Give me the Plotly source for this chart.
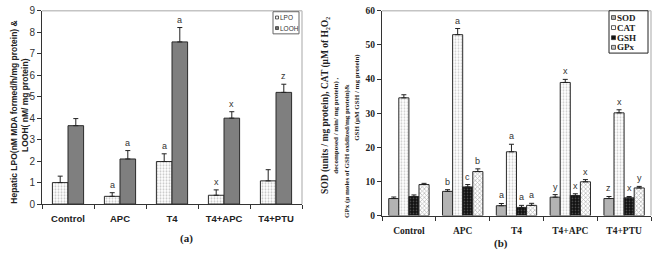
import plotly.graph_objects as go

# ---------------- data ----------------
groups = ["Control", "APC", "T4", "T4+APC", "T4+PTU"]

# panel (a)
lpo = [1.0, 0.36, 1.98, 0.41, 1.08]
lpo_err = [0.3, 0.17, 0.36, 0.25, 0.52]
lpo_sig = ["", "a", "a", "x", ""]
looh = [3.65, 2.1, 7.55, 4.0, 5.2]
looh_err = [0.33, 0.39, 0.67, 0.3, 0.38]
looh_sig = ["", "a", "a", "x", "z"]

# panel (b)
sod = [5.0, 7.1, 2.9, 5.4, 5.0]
sod_err = [0.45, 0.5, 0.65, 0.75, 0.6]
sod_sig = ["", "b", "a", "y", "z"]
cat = [34.5, 53.0, 18.7, 39.0, 30.1]
cat_err = [0.9, 1.8, 2.2, 0.9, 0.9]
cat_sig = ["", "a", "a", "x", "x"]
gsh = [5.6, 8.4, 2.4, 5.9, 5.2]
gsh_err = [0.45, 0.7, 0.6, 0.5, 0.4]
gsh_sig = ["", "c", "a", "x", "x"]
gpx = [9.1, 12.9, 3.0, 9.9, 8.1]
gpx_err = [0.35, 0.8, 0.6, 0.65, 0.45]
gpx_sig = ["", "b", "a", "x", "y"]

SANS = "Liberation Sans, Arial, sans-serif"
SERIF = "Liberation Serif, Times New Roman, serif"
EDGE = "#2a2a2a"
W, H = 658, 261


def px(x):
    return x / W


def py(y):
    return 1 - y / H


fig = go.Figure()


def err(e):
    return dict(type="data", symmetric=False, array=e, arrayminus=[0] * len(e),
                color="#222222", thickness=1, width=2.5)


styles = {
    "LPO": dict(color="white", line=dict(color=EDGE, width=1),
                pattern=dict(shape=".", bgcolor="white", fgcolor="#8a8a8a", size=3, solidity=0.35)),
    "LOOH": dict(color="#7f7f7f", line=dict(color=EDGE, width=1)),
    "SOD": dict(color="#b3b3b3", line=dict(color=EDGE, width=1)),
    "CAT": dict(color="white", line=dict(color=EDGE, width=1),
                pattern=dict(shape=".", bgcolor="white", fgcolor="#9a9a9a", size=3, solidity=0.3)),
    "GSH": dict(color="#111111", line=dict(color=EDGE, width=1),
                pattern=dict(shape=".", bgcolor="#111111", fgcolor="#9a9a9a", size=3, solidity=0.25)),
    "GPx": dict(color="white", line=dict(color=EDGE, width=1),
                pattern=dict(shape="x", bgcolor="white", fgcolor="#7a7a7a", size=3, solidity=0.45)),
}
swatch = {"LPO": "#f4f4f4", "LOOH": "#6f6f6f", "SOD": "#b3b3b3", "CAT": "#ffffff",
          "GSH": "#111111", "GPx": "#c4c4c4"}

gap_a = 0.4
wa = (1 - gap_a) / 2
gap_b = 0.25
wb = (1 - gap_b) / 4

fig.add_trace(go.Bar(x=groups, y=lpo, name="LPO", error_y=err(lpo_err), xaxis="x", yaxis="y",
                     marker=styles["LPO"], width=wa, offset=-wa))
fig.add_trace(go.Bar(x=groups, y=looh, name="LOOH", error_y=err(looh_err), xaxis="x", yaxis="y",
                     marker=styles["LOOH"], width=wa, offset=0))

for k, (nm, vals, e) in enumerate([("SOD", sod, sod_err), ("CAT", cat, cat_err),
                                    ("GSH", gsh, gsh_err), ("GPx", gpx, gpx_err)]):
    fig.add_trace(go.Bar(x=groups, y=vals, name=nm, error_y=err(e), xaxis="x2", yaxis="y2",
                         marker=styles[nm], width=wb, offset=(k - 2) * wb))

fig.update_traces(showlegend=False)

annotations = []


def add_letters(vals, errs, sigs, offset, xref, yref):
    for i, (v, e, s) in enumerate(zip(vals, errs, sigs)):
        if s:
            annotations.append(dict(x=i + offset, y=v + e, xref=xref, yref=yref, text=s,
                                    showarrow=False, yanchor="bottom", yshift=1,
                                    font=dict(family=SANS, size=9, color="#333333")))


add_letters(lpo, lpo_err, lpo_sig, -wa / 2, "x", "y")
add_letters(looh, looh_err, looh_sig, wa / 2, "x", "y")
for k, (v, e, s) in enumerate([(sod, sod_err, sod_sig), (cat, cat_err, cat_sig),
                                (gsh, gsh_err, gsh_sig), (gpx, gpx_err, gpx_sig)]):
    add_letters(v, e, s, (k - 1.5) * wb, "x2", "y2")

bold = "bold"
annotations += [
    dict(x=px(7), y=py(112), xref="paper", yref="paper", showarrow=False, textangle=-90,
         text="Hepatic LPO(nM MDA formed/h/mg protein) &",
         font=dict(family=SANS, size=8.5, color="#222", weight=bold)),
    dict(x=px(18), y=py(104), xref="paper", yref="paper", showarrow=False, textangle=-90,
         text="LOOH( nM/ mg protein)",
         font=dict(family=SANS, size=8.5, color="#222", weight=bold)),
    dict(x=px(326), y=py(105), xref="paper", yref="paper", showarrow=False, textangle=-90,
         text="SOD (units / mg protein), CAT (μM of H₂O₂",
         font=dict(family=SERIF, size=9.5, color="#222", weight=bold)),
    dict(x=px(336.5), y=py(74), xref="paper", yref="paper", showarrow=False, textangle=-90,
         text="decomposed / min/ mg protein) ,",
         font=dict(family=SERIF, size=7, color="#222", weight=bold)),
    dict(x=px(347), y=py(80), xref="paper", yref="paper", showarrow=False, textangle=-90,
         text="GPx (μ moles of GSH oxidized/mg protein)&",
         font=dict(family=SERIF, size=7, color="#222", weight=bold)),
    dict(x=px(357.5), y=py(96), xref="paper", yref="paper", showarrow=False, textangle=-90,
         text="GSH (μM GSH / mg protein)",
         font=dict(family=SERIF, size=7, color="#222", weight=bold)),
    dict(x=px(178), y=py(252), xref="paper", yref="paper", showarrow=False, text="(a)",
         font=dict(family=SERIF, size=11, color="#222", weight=bold)),
    dict(x=px(510), y=py(256.5), xref="paper", yref="paper", showarrow=False, text="(b)",
         font=dict(family=SERIF, size=11, color="#222", weight=bold)),
]

shapes = []
for xr, yr in [("x", "y"), ("x2", "y2")]:
    shapes.append(dict(type="line", xref=xr + " domain", yref=yr + " domain", x0=0, x1=1, y0=1, y1=1,
                       line=dict(color="#c4c4c4", width=1.5)))
    shapes.append(dict(type="line", xref=xr + " domain", yref=yr + " domain", x0=1, x1=1, y0=0, y1=1,
                       line=dict(color="#c4c4c4", width=1.5)))


def legend_box(x0, x1, y0, y1, names, ys, sw, font, border):
    shapes.append(dict(type="rect", xref="paper", yref="paper", x0=px(x0), x1=px(x1),
                       y0=py(y1), y1=py(y0), line=dict(color=border, width=1), fillcolor="white"))
    for nm, yy in zip(names, ys):
        shapes.append(dict(type="rect", xref="paper", yref="paper",
                           x0=px(x0 + 2.5), x1=px(x0 + 2.5 + sw), y0=py(yy + sw / 2), y1=py(yy - sw / 2),
                           line=dict(color="#333", width=0.8), fillcolor=swatch[nm]))
        annotations.append(dict(x=px(x0 + 3 + sw), y=py(yy), xref="paper", yref="paper",
                                xanchor="left", yanchor="middle", showarrow=False, text=nm,
                                font=font, borderpad=0))


legend_box(273, 299, 7, 30, ["LPO", "LOOH"], [13, 24], 3,
           dict(family=SANS, size=6.5, color="#333"), "#666")
legend_box(609, 648, 6, 50, ["SOD", "CAT", "GSH", "GPx"], [13, 23.5, 34, 44], 4,
           dict(family=SERIF, size=9, color="#222", weight=bold), "#222")

common_x = dict(type="category", showline=True, linecolor="#333", linewidth=1, ticks="outside",
                tickson="boundaries", ticklen=4, tickcolor="#333", showgrid=False, zeroline=False,
                ticklabelstandoff=6)
common_y = dict(showline=True, linecolor="#333", linewidth=1, ticks="outside", ticklen=4,
                tickcolor="#333", showgrid=False, zeroline=False)

fig.update_layout(
    width=W, height=H, margin=dict(l=0, r=0, t=0, b=0),
    paper_bgcolor="white", plot_bgcolor="white",
    barmode="overlay", showlegend=False,
    xaxis=dict(domain=[px(42), px(302)], anchor="y",
               tickfont=dict(family=SANS, size=9.5, color="#222", weight=bold), **common_x),
    yaxis=dict(domain=[py(207), py(6)], anchor="x", range=[0, 9], dtick=1,
               tickfont=dict(family=SANS, size=10, color="#333"), **common_y),
    xaxis2=dict(domain=[px(382), px(651)], anchor="y2",
                tickfont=dict(family=SERIF, size=9.5, color="#222", weight=bold), **common_x),
    yaxis2=dict(domain=[py(219), py(6)], anchor="x2", range=[0, 60], dtick=10,
                tickfont=dict(family=SERIF, size=9.5, color="#222", weight=bold), **common_y),
    annotations=annotations, shapes=shapes,
)

fig.write_html(
    "out.html",
    config={"displayModeBar": False},
    post_script=("document.documentElement.style.margin='0px';"
                 "document.documentElement.style.overflow='hidden';"
                 "document.body.style.margin='0px';"
                 "document.body.style.overflow='hidden';"),
)
